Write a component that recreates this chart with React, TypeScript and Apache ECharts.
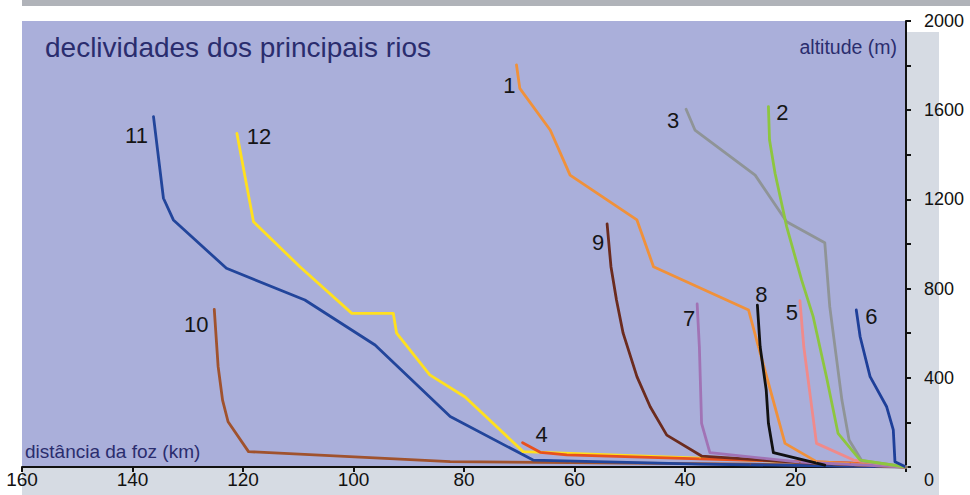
import React, { useEffect, useRef } from 'react';
import * as echarts from 'echarts';

// distance from river mouth (km), altitude (m)
const riverNames = ['1', '2', '3', '4', '5', '6', '7', '8', '9', '10', '11', '12'];

const river1: number[][] = [[70.5, 1803], [69.9, 1698], [64.4, 1511], [60.8, 1309], [48.7, 1108], [45.7, 898], [28.5, 704], [26.7, 539], [21.9, 106], [16.2, 24], [0, 0]];
const river2: number[][] = [[24.9, 1616], [24.7, 1466], [23.7, 1317], [21.6, 1078], [18.9, 839], [16.8, 674], [14.4, 405], [12.3, 151], [8.3, 31], [0, 0]];
const river3: number[][] = [[39.8, 1604], [38.2, 1511], [27.3, 1309], [21.6, 1100], [14.7, 1006], [13.8, 719], [11.6, 300], [10.3, 121], [8.0, 28], [0, 0]];
const river4: number[][] = [[69.4, 109], [66.2, 66], [61.4, 54], [37.3, 36], [10.1, 18], [0, 0]];
const river5: number[][] = [[19.2, 746], [18.5, 539], [16.2, 106], [9.5, 31], [0, 0]];
const river6: number[][] = [[9.0, 704], [8.3, 584], [6.5, 405], [3.5, 270], [2.3, 166], [2.0, 24], [0, 0]];
const river7: number[][] = [[37.8, 731], [37.4, 539], [37.0, 196], [35.5, 64], [19.2, 22], [0, 0]];
const river8: number[][] = [[26.9, 726], [26.4, 539], [25.3, 345], [24.9, 196], [24.0, 64], [14.7, 8]];
const river9: number[][] = [[54.1, 1090], [53.4, 898], [52.4, 749], [51.2, 600], [48.7, 405], [46.3, 270], [43.3, 143], [37.0, 49], [19.2, 20], [0, 0]];
const river10: number[][] = [[125.2, 707], [124.5, 450], [123.7, 300], [122.7, 203], [119.0, 69], [82.5, 24], [60.8, 20], [28.2, 13], [0, 0]];
const river11: number[][] = [[136.2, 1571], [134.4, 1205], [132.6, 1108], [123.0, 891], [108.8, 749], [96.1, 547], [82.5, 226], [67.5, 31], [37.3, 13], [0, 0]];
const river12: number[][] = [[121.1, 1496], [118.1, 1100], [109.7, 898], [100.3, 689], [92.8, 689], [92.2, 600], [86.2, 413], [79.8, 314], [69.3, 69], [37.3, 40], [19.2, 22], [0, 0]];

const riverData = [river1, river2, river3, river4, river5, river6, river7, river8, river9, river10, river11, river12];
const riverColors = ['#F0913A', '#8DC63F', '#8F9497', '#E8501E', '#F08A8A', '#1E3F99', '#A173B5', '#111111', '#6B2B1E', '#A0522D', '#22459B', '#FFE01F'];
const labelOffsets = [[-7, 21], [14, 6], [-13, 11], [19, -8], [-8, 12], [15, 6], [-8, 15], [4, -11], [-9, 19], [-18, 15], [-17, 19], [22, 3]];

const drawOrder = [9, 10, 11, 3, 8, 0, 6, 7, 4, 2, 1, 5];

const FONT = 'Liberation Sans, Arial, sans-serif';

export default function App() {
  const ref = useRef<HTMLDivElement>(null);
  useEffect(() => {
    document.body.style.margin = '0';
    const chart = echarts.init(ref.current!, null, { renderer: 'svg' });
    const series = drawOrder.map((i) => ({
      type: 'line',
      name: riverNames[i],
      color: riverColors[i],
      symbol: 'circle',
      symbolSize: 1,
      showSymbol: true,
      lineStyle: { color: riverColors[i], width: 2.8, cap: 'round', join: 'round' },
      emphasis: { disabled: true },
      data: riverData[i].map((p, j) =>
        j === 0
          ? {
              value: p,
              itemStyle: { color: 'rgba(0,0,0,0)' },
              label: {
                show: true,
                position: 'inside',
                offset: labelOffsets[i],
                formatter: riverNames[i],
                color: '#151515',
                fontSize: 22,
                fontFamily: FONT,
              },
            }
          : p
      ),
    }));

    chart.setOption({
      animation: false,
      textStyle: { fontFamily: FONT },
      grid: {
        left: 22,
        right: 64,
        top: 21,
        bottom: 28,
        show: true,
        backgroundColor: '#AAAFDA',
        borderWidth: 0,
      },
      graphic: [
        { type: 'rect', z: -10, shape: { x: 22, y: 0, width: 948, height: 6 }, style: { fill: '#B0B3B9' } },
        { type: 'rect', z: -10, shape: { x: 22, y: 32, width: 917, height: 463 }, style: { fill: '#D6DBE3' } },
        {
          type: 'text', x: 45, y: 47, z: 10,
          style: { text: 'declividades dos principais rios', fontSize: 28, fontFamily: FONT, fill: '#2A2D6E', verticalAlign: 'middle' },
        },
        {
          type: 'text', x: 897, y: 47, z: 10,
          style: { text: 'altitude (m)', fontSize: 19.5, fontFamily: FONT, fill: '#2A2D6E', align: 'right', verticalAlign: 'middle' },
        },
        {
          type: 'text', x: 25, y: 451, z: 10,
          style: { text: 'distância da foz (km)', fontSize: 19, fontFamily: FONT, fill: '#2A2D6E', verticalAlign: 'middle' },
        },
      ],
      xAxis: {
        type: 'value',
        min: 0,
        max: 160,
        interval: 20,
        inverse: true,
        position: 'bottom',
        axisLine: { show: true, lineStyle: { color: '#111', width: 2 } },
        axisTick: { show: true, length: 5, lineStyle: { color: '#111', width: 2 } },
        axisLabel: {
          margin: 3,
          fontSize: 19,
          color: '#111',
          fontFamily: FONT,
          formatter: (v: number) => (v === 0 ? '' : String(v)),
        },
        splitLine: { show: false },
      },
      yAxis: {
        type: 'value',
        min: 0,
        max: 2000,
        interval: 200,
        position: 'right',
        axisLine: { show: true, lineStyle: { color: '#111', width: 2 } },
        axisTick: { show: true, length: 5, lineStyle: { color: '#111', width: 2 } },
        axisLabel: {
          margin: 18,
          fontSize: 18,
          color: '#111',
          fontFamily: FONT,
          formatter: (v: number) => (v === 0 ? '{z|0}' : v % 400 === 0 ? String(v) : ''),
          rich: { z: { padding: [26, 0, 0, 0], fontSize: 18, color: '#111', fontFamily: FONT } },
        },
        splitLine: { show: false },
      },
      series,
    });
    return () => chart.dispose();
  }, []);
  return <div ref={ref} style={{ width: 970, height: 495 }} />;
}
